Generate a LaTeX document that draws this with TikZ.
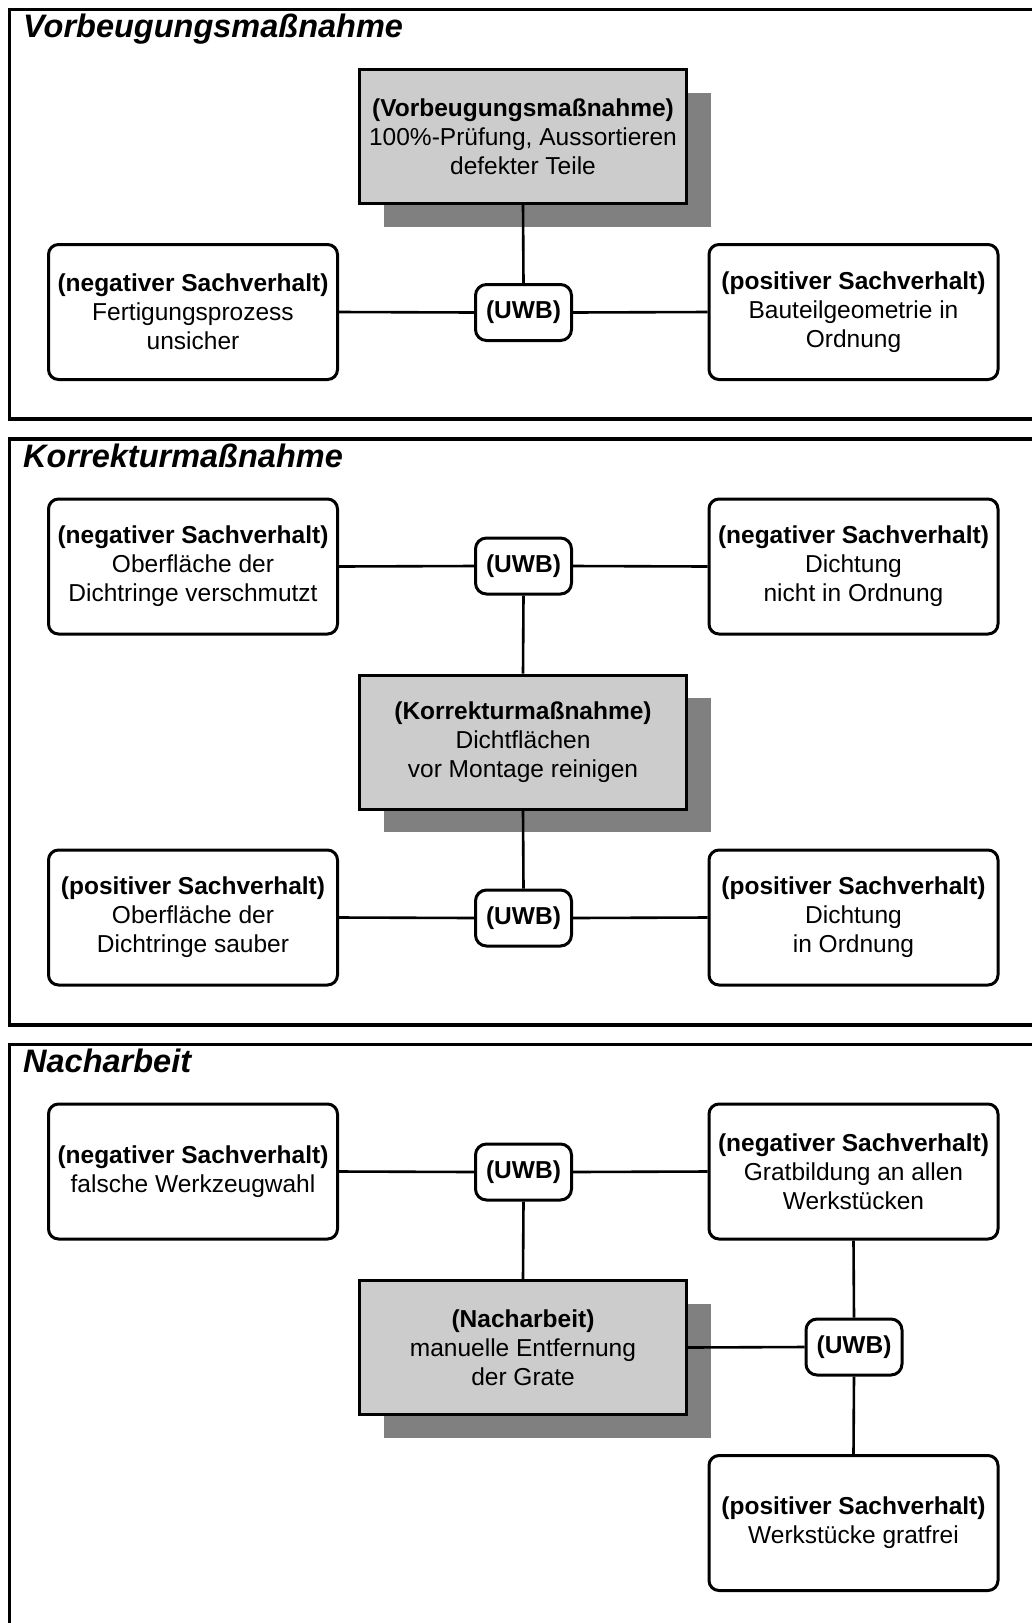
\documentclass[tikz,border=0pt]{standalone}
\usepackage{fontspec}
\setmainfont{Liberation Sans}
\usetikzlibrary{shadows}
\definecolor{boxgray}{HTML}{CCCCCC}
\definecolor{shadowgray}{HTML}{808080}
\begin{document}
\begin{tikzpicture}[x=1pt,y=-1pt,
  txt/.style={font=\fontsize{24.5}{29}\selectfont, align=center},
  fact/.style={txt, draw, line width=3pt, rounded corners=10pt, fill=white,
    minimum width=289pt, minimum height=135pt, inner sep=0pt},
  measure/.style={txt, draw, line width=3pt, fill=boxgray,
    minimum width=327pt, minimum height=134pt, inner sep=0pt,
    drop shadow={shadow xshift=24pt, shadow yshift=-23pt, fill=shadowgray, opacity=1}},
  uwb/.style={txt, draw, line width=3pt, rounded corners=11pt, fill=white,
    minimum width=96pt, minimum height=56pt, inner sep=0pt, font=\fontsize{24.5}{29}\selectfont\bfseries},
  frame/.style={draw, line width=3.2pt},
  title/.style={anchor=base west, inner sep=0pt, font=\fontsize{32.5}{36}\selectfont\bfseries\itshape},
  link/.style={line width=2.6pt}
]
\useasboundingbox (0,0) rectangle (1032,1623);
\clip (0,0) rectangle (1032,1623);

% section frames
\draw[frame] (9.5,9.5) rectangle (1045,419);
\draw[frame] (9.5,439) rectangle (1045,1025);
\draw[frame] (9.5,1044.5) rectangle (1045,1640);

% ---------- Vorbeugungsmaßnahme ----------
\node[title] (t1) at (23,37) {Vorbeugungsmaßnahme};
\node[measure] (c1) at (523,136.5) {\textbf{(Vorbeugungsmaßnahme)}\\100\%-Prüfung, Aussortieren\\defekter Teile};
\node[fact] (l1) at (193,312) {\textbf{(negativer Sachverhalt)}\\Fertigungsprozess\\unsicher};
\node[fact] (r1) at (853.5,312) {\textbf{(positiver Sachverhalt)}\\Bauteilgeometrie in\\Ordnung};
\node[uwb] (u1) at (523.5,312.5) {(UWB)};
\draw[link] (c1.south) -- (u1.north);
\draw[link] (l1.east) -- (u1.west);
\draw[link] (u1.east) -- (r1.west);

% ---------- Korrekturmaßnahme ----------
\node[title] (t2) at (23,467) {Korrekturmaßnahme};
\node[fact] (l2a) at (193,566.5) {\textbf{(negativer Sachverhalt)}\\Oberfläche der\\Dichtringe verschmutzt};
\node[fact] (r2a) at (853.5,566.5) {\textbf{(negativer Sachverhalt)}\\Dichtung\\nicht in Ordnung};
\node[uwb] (u2a) at (523.5,566) {(UWB)};
\node[measure] (c2) at (523,742) {\textbf{(Korrekturmaßnahme)}\\Dichtflächen\\vor Montage reinigen};
\node[fact] (l2b) at (193,917.5) {\textbf{(positiver Sachverhalt)}\\Oberfläche der\\Dichtringe sauber};
\node[fact] (r2b) at (853.5,917.5) {\textbf{(positiver Sachverhalt)}\\Dichtung\\in Ordnung};
\node[uwb] (u2b) at (523.5,918) {(UWB)};
\draw[link] (l2a.east) -- (u2a.west);
\draw[link] (u2a.east) -- (r2a.west);
\draw[link] (u2a.south) -- (c2.north);
\draw[link] (c2.south) -- (u2b.north);
\draw[link] (l2b.east) -- (u2b.west);
\draw[link] (u2b.east) -- (r2b.west);

% ---------- Nacharbeit ----------
\node[title] (t3) at (23,1072) {Nacharbeit};
\node[fact] (l3) at (193,1171.5) {\textbf{(negativer Sachverhalt)}\\falsche Werkzeugwahl};
\node[fact] (r3a) at (853.5,1171.5) {\textbf{(negativer Sachverhalt)}\\Gratbildung an allen\\Werkstücken};
\node[uwb] (u3a) at (523.5,1172) {(UWB)};
\node[measure] (c3) at (523,1347.5) {\textbf{(Nacharbeit)}\\manuelle Entfernung\\der Grate};
\node[uwb] (u3b) at (854,1347) {(UWB)};
\node[fact] (r3b) at (853.5,1523) {\textbf{(positiver Sachverhalt)}\\Werkstücke gratfrei};
\draw[link] (l3.east) -- (u3a.west);
\draw[link] (u3a.east) -- (r3a.west);
\draw[link] (u3a.south) -- (c3.north);
\draw[link] (r3a.south) -- (u3b.north);
\draw[link] (c3.east) -- (u3b.west);
\draw[link] (u3b.south) -- (r3b.north);
\end{tikzpicture}
\end{document}
